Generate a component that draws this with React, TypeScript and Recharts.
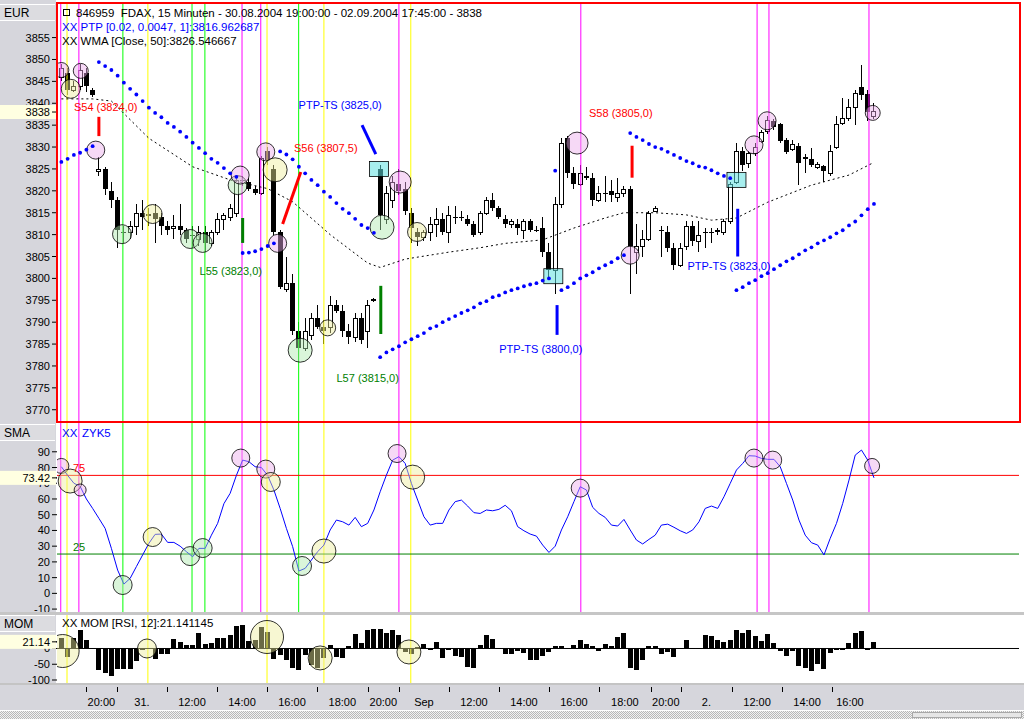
import React from "react";
import {
  Bar,
  ComposedChart,
  Line,
  ReferenceLine,
  Scatter,
  XAxis,
  YAxis,
} from "recharts";

const FONT = '"Liberation Sans", Arial, Helvetica, sans-serif';
const GRAY = "#d6d6dc";
const W = 1024;
const AXIS_W = 57;
const X_DOMAIN: [number, number] = [-0.7, 153.2];

// 15-minute candles, 30.08.2004 19:00 .. 02.09.2004 17:45
const open = [
  3846, 3847, 3843, 3844, 3847, 3843, 3824.5, 3825, 3820, 3818,
  3810.5, 3810.5, 3812, 3815, 3814.5, 3815, 3814, 3812, 3811.5, 3812,
  3811, 3810, 3809, 3810.5, 3808, 3810.5, 3813.5, 3814, 3815, 3822.5,
  3822, 3820.5, 3819.5, 3829, 3825, 3810.5, 3797.5, 3799, 3788, 3784,
  3787, 3791, 3789, 3789, 3794, 3792.5, 3788, 3786.5, 3791, 3788,
  3795, 3825, 3813.5, 3818, 3821.5, 3820.5, 3815, 3810.5, 3809.5, 3810.5,
  3812.5, 3813.5, 3810.5, 3814, 3814, 3813.5, 3812.5, 3810.5, 3815, 3818,
  3816, 3813.5, 3812.5, 3812.5, 3811, 3813, 3811, 3811.5, 3806, 3802,
  3817, 3832, 3824, 3821.5, 3823.5, 3823, 3818, 3819.5, 3820, 3818.5,
  3819.5, 3820.5, 3806, 3807.5, 3809, 3815.5, 3811, 3810.5, 3807, 3803,
  3807.5, 3812, 3808.5, 3810.5, 3810.5, 3811, 3810.5, 3813, 3822, 3829,
  3826.4, 3828.6, 3831.4, 3833.7, 3836, 3835.3, 3831.6, 3829.6, 3830.3, 3827.7,
  3827.3, 3825.4, 3825.7, 3824.1, 3830, 3835.6, 3836.7, 3839.2, 3843.7, 3842.1,
  3837.1,
];
const high = [
  3849, 3848, 3845, 3849, 3848, 3843.5, 3827.7, 3825.5, 3822, 3818.5,
  3812, 3813, 3817, 3818, 3816, 3817, 3815, 3813, 3814.5, 3817,
  3811.5, 3812, 3812, 3812, 3811, 3815, 3815, 3817, 3823, 3823.5,
  3823, 3821, 3828, 3830, 3826, 3811, 3805, 3801, 3790, 3791,
  3792, 3794, 3790.5, 3796, 3795, 3794, 3789.5, 3792, 3792, 3795,
  3795.5, 3826, 3821, 3823.5, 3825, 3822, 3816, 3811.5, 3811, 3814,
  3816, 3815, 3816.5, 3816.5, 3815.5, 3814.5, 3813, 3815.5, 3818.5, 3819.5,
  3816.5, 3814.5, 3813.5, 3813.5, 3813.5, 3813.5, 3812, 3814, 3808, 3818.5,
  3832, 3832.5, 3825.5, 3826, 3825.5, 3824, 3821, 3823.5, 3822.5, 3823,
  3821, 3821, 3812.5, 3811, 3815.5, 3816.5, 3812, 3812, 3808, 3808,
  3813, 3813, 3813, 3811.5, 3811.5, 3811.5, 3813.5, 3822, 3831, 3830,
  3829, 3831, 3834, 3837, 3836.5, 3835.5, 3832, 3831.5, 3831, 3828.5,
  3829.8, 3826.5, 3826, 3830.5, 3837, 3841.2, 3841, 3843, 3848.8, 3843,
  3840,
];
const low = [
  3845, 3842, 3842.5, 3843, 3842.5, 3841.5, 3823.5, 3819, 3816, 3807,
  3808, 3809, 3810, 3811, 3812, 3808, 3810, 3810, 3809, 3810,
  3808, 3807, 3807.5, 3806, 3807.5, 3810, 3811, 3813, 3814, 3821,
  3820, 3819, 3819, 3826, 3810, 3797.5, 3797, 3787, 3781, 3783.5,
  3786, 3788.5, 3785, 3787.5, 3792, 3786.5, 3785, 3785.5, 3785, 3784,
  3794.5, 3811, 3812.5, 3816, 3819, 3814.5, 3808, 3807.5, 3808.5, 3808.5,
  3809.5, 3810, 3808, 3812.5, 3813, 3812, 3809.5, 3810, 3814.5, 3815.5,
  3813.5, 3811.5, 3811.5, 3810, 3809, 3810.5, 3810.5, 3805, 3800, 3796.5,
  3816, 3823, 3820.5, 3821, 3822.5, 3816.5, 3817.5, 3817.5, 3817.5, 3817.5,
  3818.5, 3796.5, 3801, 3805, 3808.5, 3815.5, 3805, 3806, 3802, 3802.5,
  3806.5, 3807.5, 3806, 3807, 3808, 3810, 3810, 3812.5, 3821.5, 3824.5,
  3825.2, 3828, 3831, 3833, 3834, 3831, 3828.5, 3829, 3821.3, 3824,
  3825.5, 3825, 3822, 3823.5, 3829.5, 3835, 3836, 3835, 3840.8, 3836,
  3836.5,
];
const close = [
  3848, 3843, 3844, 3847.5, 3844, 3842, 3825, 3820.5, 3818, 3811,
  3810.5, 3812, 3815, 3814, 3814.7, 3813.5, 3812, 3811, 3812, 3811,
  3809, 3810, 3810.5, 3808, 3810.5, 3813.5, 3814.5, 3816, 3822.5, 3822.5,
  3820.5, 3819.5, 3827.5, 3827, 3810.5, 3798, 3799, 3788, 3784, 3788,
  3791, 3789, 3788, 3794, 3792.5, 3788, 3786.5, 3791, 3786, 3794,
  3795.2, 3814.5, 3819.5, 3822, 3820, 3815.5, 3811.5, 3809.5, 3810.5, 3812.5,
  3813.5, 3810.5, 3814.5, 3814, 3814, 3812.5, 3810, 3815, 3818, 3816,
  3814, 3812.5, 3813, 3811.5, 3813, 3811, 3811, 3806, 3802, 3817,
  3831, 3824, 3821.5, 3824, 3823, 3818, 3819.5, 3819.5, 3819, 3819.5,
  3820.5, 3807.5, 3807.5, 3809, 3815, 3816, 3811, 3807, 3803, 3807,
  3812, 3808.5, 3810, 3810.5, 3810.5, 3810.5, 3813, 3821.5, 3829, 3826,
  3828.6, 3830, 3833.4, 3836.2, 3834.6, 3831.4, 3828.9, 3830.7, 3826.4, 3827.3,
  3825.9, 3826.1, 3824.5, 3829, 3835.3, 3836.7, 3839.2, 3842.4, 3841.9, 3838,
  3838.2,
];

// PTP stop dots, one per candle
const ptp = [
  3826.6, 3827.3, 3828.2, 3828.7, 3829.4, 3830.2,
  3849.4, 3848.5, 3847.6, 3846.3, 3844.7, 3843.3, 3842, 3840.5, 3839, 3837.8,
  3836.8, 3835.5, 3834.6, 3833.5, 3832.3, 3831, 3829.8, 3828.6, 3827.3, 3826.4,
  3825.2, 3824, 3823.2,
  3805.8, 3805.9, 3806.2, 3806.7, 3807.4, 3808,
  3829, 3828.3, 3827.2, 3825.5, 3824, 3822.5, 3821.3, 3819.8, 3818.6, 3817.2,
  3815.9, 3814.9, 3813.6, 3812.2, 3811.5, 3810.4,
  3782, 3783.1, 3783.8, 3784.5, 3785.4, 3786.1, 3786.8, 3787.5, 3788.6, 3789.1,
  3790, 3790.7, 3791.4, 3792.1, 3792.7, 3793.4, 3794.3, 3794.8, 3795.7, 3796.1,
  3796.8, 3797.3, 3797.7, 3798.2, 3798.6, 3798.9, 3799.5, 3800,
  3824.6,
  3797.3, 3798, 3798.9, 3800, 3800.7, 3801.4, 3802.3, 3803, 3803.7, 3804.6, 3805.3,
  3833.2, 3832.3, 3831.6, 3830.7, 3830, 3829.6, 3828.9, 3828.2, 3827.5, 3826.8,
  3826.3, 3825.6, 3825.3, 3824.7, 3824, 3823.4, 3822.9,
  3797.3, 3798, 3798.9, 3799.6, 3800.5, 3801.2, 3802.1, 3803, 3803.9, 3804.6,
  3805.5, 3806.4, 3807.1, 3808, 3808.7, 3809.4, 3810.3, 3811, 3812.1, 3813,
  3814.4, 3815.8, 3817,
];

// WMA(50) readings at candle index
const wmaIdx = [0, 5, 8, 14, 21, 27, 33, 37, 43, 49, 51, 55, 62, 67, 71, 77, 82, 87, 90, 95, 100, 104, 108, 113, 120, 126, 130];
const wmaVal = [3841, 3841, 3840.5, 3832, 3825.5, 3822.5, 3820.5, 3817.5, 3810, 3803.5, 3802.5, 3804.4, 3806, 3807, 3808, 3808.8, 3811.5, 3813.8, 3815, 3815, 3814.5, 3813.3, 3813.8, 3817.4, 3821.3, 3823.6, 3826.5];

const zyk5 = [
  80.5, 75, 70, 68, 60, 54, 47.7, 41.3, 28.6, 14.8,
  5.9, 9.5, 17, 24.4, 31.8, 37.5, 37.7, 32.4, 32.4, 30,
  26.5, 23.3, 28.6, 28.6, 37, 44.5, 57, 63.6, 75, 84.7,
  83.7, 80.5, 80, 75, 65.7, 54, 41.3, 29.7, 14.2, 15.9,
  21.2, 26.5, 30.7, 40.3, 46.6, 45.5, 43.4, 48.3, 42.4, 44.5,
  53, 64.6, 75.2, 84.7, 86.9, 82.6, 69.9, 59.3, 48.7, 43.4,
  44.5, 44.5, 53, 58.3, 59.3, 55.5, 51.3, 50.8, 53, 52.5,
  53.4, 56, 52.5, 42.4, 39.8, 37.7, 36.4, 30.7, 26, 30,
  40.3, 48.7, 58.3, 67.8, 65.7, 54.7, 50.8, 48.3, 43.4, 42.8,
  47, 40.3, 33.9, 31.4, 34.3, 37, 43.4, 44, 42, 39.8,
  38.1, 40.3, 45.5, 54, 55.5, 54, 61.4, 69.9, 78.4, 82.6,
  87.5, 87.3, 85.8, 85.2, 85.2, 80.5, 69.9, 59.3, 46.6, 37,
  32.2, 30.7, 24.4, 35, 44.5, 57.2, 72, 87.9, 91.1, 84.7,
  73.42,
];

const mom = [
  32, -28, 32, 58, 26, -3, -69, -79, -88, -67,
  -67, -67, -42, -5, -3, -35, -19, -19, 30, 21,
  11, 11, 50, 13, 16, 32, 32, 42, 72, 74,
  24, 26, 67, 51, -35, -21, -39, -63, -69, -23,
  -55, -63, -32, 11, -28, -32, 7, 45, 18, 58,
  61, 61, 50, 58, 44, -13, -19, 5, 14, -5,
  20, -32, -7, -26, -28, -60, -63, 11, 42, 29,
  1, -19, -19, -11, -16, -39, -39, -26, -14, 7,
  7, 1, 11, 26, 14, 7, -11, 14, 7, 37,
  50, -63, -69, -39, 7, 7, -19, -14, -28, 1,
  26, -3, -2, 44, 39, 26, 21, 26, 58, 50,
  60, 39, 24, 45, 18, -11, -26, -11, -58, -63,
  -74, -50, -67, -16, -5, -7, 18, 50, 56, -5,
  21.14,
];

// circle markers: [index, value, kind]
const priceMarks: [number, number, string][] = [
  [0, 3847.6, "ps"], [1.5, 3843.3, "y"], [3.1, 3847.4, "ps"], [5.5, 3829.3, "p"],
  [9.7, 3810.1, "g"], [14.6, 3814.7, "y"], [20.6, 3809, "g"], [22.6, 3808.1, "g"],
  [28.2, 3821.3, "g"], [28.6, 3823.6, "p"], [32.7, 3828.9, "p"], [34.2, 3824.8, "yl"],
  [34.6, 3808, "p"], [38.2, 3783.6, "gl"], [42.6, 3788.7, "ys"], [51.3, 3811.7, "gl"],
  [54.2, 3822, "pl"], [56.9, 3810.6, "y"], [82.5, 3830.9, "pl"], [91, 3805.3, "p"],
  [110.8, 3830.5, "p"], [112.9, 3836, "p"], [129.8, 3837.8, "ps"],
];
const oscMarks: [number, number, string][] = [
  [0, 81, "ps"], [1.4, 71.4, "yl"], [3, 65.7, "pxs"], [9.8, 5.3, "g"],
  [14.6, 35.8, "y"], [20.6, 23.7, "g"], [22.6, 28.8, "g"], [28.7, 86, "p"],
  [32.7, 79, "p"], [33.5, 70.8, "y"], [38.5, 17.4, "g"], [42, 26.9, "yl"],
  [53.7, 88.9, "p"], [56.2, 73.9, "yl"], [83, 66.9, "p"], [110.8, 86, "p"],
  [113.8, 84.7, "p"], [129.7, 81, "ps"],
];
const momMarks: [number, number, string][] = [
  [0.2, -8, "yxl"], [13.7, 0, "y"], [32.9, 36.5, "yxl"], [41.4, -30, "yl"], [55.6, -11, "yl"],
];

// PTP-TS boxes: [index, price]
const tsBoxes: [number, number][] = [[50.8, 3825], [78.7, 3800.5], [108, 3822.5]];

// signal strokes: [i1, p1, i2, p2, kind]
const signals: [number, number, number, number, string][] = [
  [6, 3836.9, 6, 3832.5, "s"],
  [29, 3813.8, 29, 3808.1, "l"],
  [35.4, 3812.4, 38.3, 3824.3, "s"],
  [48.1, 3835, 50.3, 3828.4, "t"],
  [51.1, 3798.3, 51.1, 3787.3, "l"],
  [79.3, 3793.9, 79.3, 3787.1, "t"],
  [91.3, 3830.3, 91.3, 3823, "s"],
  [108.2, 3815.9, 108.2, 3805, "t"],
];

// notes: [index, price, text, kind]
const notes: [number, number, string, string][] = [
  [7.1, 3839.1, "S54 (3824,0)", "s"],
  [27.1, 3801.7, "L55 (3823,0)", "l"],
  [42.3, 3829.8, "S56 (3807,5)", "s"],
  [44.6, 3839.6, "PTP-TS (3825,0)", "t"],
  [49.0, 3777.2, "L57 (3815,0)", "l"],
  [76.7, 3783.9, "PTP-TS (3800,0)", "t"],
  [89.5, 3837.8, "S58 (3805,0)", "s"],
  [106.8, 3802.8, "PTP-TS (3823,0)", "t"],
];

// vertical cycle lines: [index, kind]
const vLines: [number, string][] = [
  [-0.1, "m"], [0.9, "y"], [2.8, "m"], [9.84, "g"], [13.84, "y"], [20.9, "g"],
  [22.96, "g"], [28.9, "m"], [31.9, "m"], [32.9, "y"], [37.96, "g"], [42, "y"],
  [54, "m"], [55.9, "y"], [83.1, "m"], [111.3, "m"], [113.2, "m"], [129.2, "m"],
];

const tickPos = [3.9, 8.9, 16.9, 24.9, 32.9, 40.9, 49, 54, 62, 70, 78, 86, 94.3, 99.1, 107.3, 115.3, 123.3];
const tickLbl = ["20:00", "31.", "12:00", "14:00", "16:00", "18:00", "20:00", "Sep", "12:00", "14:00", "16:00", "18:00", "20:00", "2.", "12:00", "14:00", "16:00"];
const LAST_IDX = 129;

const priceTicks = [3770, 3775, 3780, 3785, 3790, 3795, 3800, 3805, 3810, 3815, 3820, 3825, 3830, 3835, 3840, 3845, 3850, 3855];
const PRICE_NOW = 3838;
const oscTicks = [-10, 0, 10, 20, 30, 40, 50, 60, 70, 80, 90];
const OSC_NOW = 73.42;
const momTicks = [-100, -50, 0];
const MOM_NOW = 21.14;

const candles = open.map((o, i) => ({ i, o, h: high[i], l: low[i], c: close[i] }));
const ptpPts = ptp.map((v, i) => ({ i, v }));
const wmaPts = wmaIdx.map((i, k) => ({ i, v: wmaVal[k] }));
const zykPts = zyk5.map((v, i) => ({ i, v }));
const momPts = mom.map((v, i) => ({ i, v }));
const toMarks = (a: [number, number, string][]) => a.map(([i, v, k]) => ({ i, v, k }));
const boxPts = tsBoxes.map(([i, v]) => ({ i, v }));
const notePts = notes.map(([i, v, t, k]) => ({ i, v, t, k }));
const lblPos = tickPos.map((t, k) => (t + (tickPos[k + 1] ?? LAST_IDX)) / 2);
const xTicks = [...tickPos, ...lblPos];

const PINK = "#ecaaec";
const YEL = "#eeee9c";
const GRN = "#ade8ad";
const MARK: Record<string, { r: number; fill: string }> = {
  p: { r: 9, fill: PINK },
  ps: { r: 7.5, fill: PINK },
  pxs: { r: 6, fill: PINK },
  pl: { r: 11, fill: PINK },
  y: { r: 9.5, fill: YEL },
  ys: { r: 8, fill: YEL },
  yl: { r: 12, fill: YEL },
  yxl: { r: 16.5, fill: YEL },
  g: { r: 9.5, fill: GRN },
  gl: { r: 12, fill: GRN },
};
const SIG_COL: Record<string, string> = { s: "#ff0000", l: "#008000", t: "#0000ff" };
const V_COL: Record<string, string> = { m: "#ff00ff", y: "#ffff00", g: "#00ff00" };

function Candle(p: any) {
  const d = p.payload;
  if (!d || p.x == null || p.y == null) return <g />;
  const top = Math.min(p.y, p.y + p.height);
  const hgt = Math.abs(p.height);
  const k = d.h > d.l ? hgt / (d.h - d.l) : 0;
  const yOf = (v: number) => top + (d.h - v) * k;
  const left = Math.round(p.x + p.width / 2 - 2.5);
  const mid = left + 2.5;
  const bTop = Math.round(yOf(Math.max(d.o, d.c)));
  const bBot = Math.round(yOf(Math.min(d.o, d.c)));
  const up = d.c > d.o;
  let body;
  if (bBot - bTop < 1) {
    body = <line x1={left} x2={left + 5} y1={bTop + 0.5} y2={bTop + 0.5} stroke="#000" />;
  } else if (up) {
    body = <rect x={left + 0.5} y={bTop + 0.5} width={4} height={bBot - bTop} fill="#fff" stroke="#000" />;
  } else {
    body = <rect x={left} y={bTop} width={5} height={Math.max(1, bBot - bTop)} fill="#000" />;
  }
  return (
    <g shapeRendering="crispEdges">
      <line x1={mid} x2={mid} y1={top} y2={top + hgt} stroke="#000" />
      {body}
    </g>
  );
}

function MomBar(p: any) {
  if (p.x == null || p.y == null) return <g />;
  const top = Math.round(Math.min(p.y, p.y + p.height));
  const h = Math.max(1, Math.round(Math.abs(p.height)));
  const left = Math.round(p.x + p.width / 2 - 2.5);
  return <rect x={left} y={top} width={5} height={h} fill="#000" shapeRendering="crispEdges" />;
}

function MarkShape(p: any) {
  const s = MARK[p.payload?.k] ?? MARK.p;
  return (
    <g>
      <circle cx={p.cx} cy={p.cy} r={s.r} fill={s.fill} fillOpacity={0.45} />
      <circle cx={p.cx} cy={p.cy} r={s.r} fill="none" stroke="#000" strokeWidth={0.8} />
    </g>
  );
}

function PtpDot(p: any) {
  return <circle cx={p.cx} cy={p.cy} r={1.9} fill="#0000ff" />;
}

function BoxShape(p: any) {
  return (
    <g>
      <rect x={p.cx - 9.5} y={p.cy - 7.5} width={19} height={15} fill="#5fe0e0" fillOpacity={0.55} />
      <rect x={p.cx - 9.5} y={p.cy - 7.5} width={19} height={15} fill="none" stroke="#000" strokeWidth={0.8} />
    </g>
  );
}

function NoteShape(p: any) {
  return (
    <text x={p.cx} y={p.cy} dy={4} textAnchor="middle" fontSize={11} fontFamily={FONT} fill={SIG_COL[p.payload?.k]}>
      {p.payload?.t}
    </text>
  );
}

function makeYTick(now: number, fmt: (v: number) => string) {
  return function YTick(p: any) {
    const v = p.payload?.value;
    const label = (
      <text x={p.x} y={p.y} dy={4} textAnchor="end" fontSize={11} fontFamily={FONT} fill="#000">
        {fmt(v)}
      </text>
    );
    if (v !== now) return label;
    return (
      <g>
        <rect x={0} y={p.y - 7} width={AXIS_W - 1} height={14} fill="#ffffe1" />
        <line x1={AXIS_W - 5} x2={AXIS_W} y1={p.y} y2={p.y} stroke="#000" />
        {label}
      </g>
    );
  };
}

function XTick(p: any) {
  const v = p.payload?.value;
  const ti = tickPos.findIndex((t) => Math.abs(t - v) < 1e-6);
  if (ti >= 0) {
    const x = Math.round(p.x) + 0.5;
    return <line x1={x} x2={x} y1={p.y + 4} y2={p.y + 9} stroke="#000" />;
  }
  const li = lblPos.findIndex((t) => Math.abs(t - v) < 1e-6);
  return (
    <text x={p.x} y={p.y + 23} textAnchor="middle" fontSize={11} fontFamily={FONT} fill="#000">
      {tickLbl[li]}
    </text>
  );
}

const vertical = (kinds: string[]) =>
  vLines
    .filter(([, k]) => kinds.includes(k))
    .map(([i, k], n) => (
      <ReferenceLine key={"v" + n} x={i} stroke={V_COL[k]} strokeWidth={1} />
    ));

const hiddenX = <XAxis dataKey="i" type="number" domain={X_DOMAIN} hide allowDataOverflow />;

function Txt({ x, y, c = "#000", size = 11, children }: { x: number; y: number; c?: string; size?: number; children: React.ReactNode }) {
  return (
    <div
      style={{
        position: "absolute",
        left: x,
        top: y - 7,
        fontFamily: FONT,
        fontSize: size,
        lineHeight: "14px",
        color: c,
        whiteSpace: "pre",
      }}
    >
      {children}
    </div>
  );
}

function SideBox({ top, h, label }: { top: number; h: number; label: string }) {
  return (
    <div
      style={{
        position: "absolute",
        left: 0,
        top,
        width: 55,
        height: h,
        background: "#dcdce0",
        borderTop: "1px solid #fff",
        borderBottom: "1px solid #fff",
        fontFamily: FONT,
        fontSize: 12,
        lineHeight: h + "px",
        paddingLeft: 4,
        boxSizing: "border-box",
      }}
    >
      {label}
    </div>
  );
}

function abs(top: number, h: number, extra: React.CSSProperties = {}): React.CSSProperties {
  return { position: "absolute", left: 0, top, width: W, height: h, ...extra };
}

export default function App() {
  return (
    <div style={{ position: "absolute", left: 0, top: 0, width: W, height: 719, background: "#fff", overflow: "hidden" }}>
      <div style={{ position: "absolute", left: 0, top: 0, width: 56, height: 719, background: GRAY }} />
      <div style={abs(612, 3, { background: "#c6c6c6" })} />
      <div style={abs(683, 27, { background: GRAY, borderTop: "2px solid #c4c4c4", boxSizing: "border-box" })} />
      <div
        style={abs(710, 9, {
          background: "repeating-conic-gradient(#b8b8b8 0 25%, #f2f2f2 0 50%) 0 0/2px 2px",
          borderTop: "1px solid #fff",
          boxSizing: "border-box",
        })}
      />
      <div style={{ position: "absolute", left: 912, top: 712, width: 110, height: 6, background: "#e6e6e6", border: "1px solid #a8a8a8", boxSizing: "border-box" }} />
      <SideBox top={4} h={17} label="EUR" />
      <SideBox top={424} h={17} label="SMA" />
      <SideBox top={615} h={17} label="MOM" />

      <div style={abs(0, 423)}>
        <ComposedChart width={W} height={423} data={candles} margin={{ top: 3, right: 5, bottom: 1, left: 0 }}>
          {hiddenX}
          <YAxis
            type="number"
            domain={[3767.2, 3862.9]}
            ticks={[...priceTicks, PRICE_NOW]}
            interval={0}
            width={AXIS_W}
            axisLine={false}
            tickSize={5}
            tickLine={{ stroke: "#000" }}
            tick={makeYTick(PRICE_NOW, (v) => String(v))}
            allowDataOverflow
          />
          {vertical(["m", "y", "g"])}
          <Scatter data={boxPts} dataKey="v" shape={BoxShape} isAnimationActive={false} />
          <Scatter data={toMarks(priceMarks)} dataKey="v" shape={MarkShape} isAnimationActive={false} />
          <Line data={wmaPts} dataKey="v" stroke="#000" strokeWidth={1} strokeDasharray="2 3" dot={false} isAnimationActive={false} />
          <Bar dataKey={(d: any) => [d.l, d.h]} barSize={5} shape={Candle} isAnimationActive={false} />
          <Scatter data={ptpPts} dataKey="v" shape={PtpDot} isAnimationActive={false} />
          {signals.map(([i1, p1, i2, p2, k], n) => (
            <ReferenceLine
              key={"s" + n}
              segment={[{ x: i1, y: p1 }, { x: i2, y: p2 }]}
              stroke={SIG_COL[k]}
              strokeWidth={3}
            />
          ))}
          <Scatter data={notePts} dataKey="v" shape={NoteShape} isAnimationActive={false} />
        </ComposedChart>
      </div>

      <div style={abs(423, 189)}>
        <ComposedChart width={W} height={189} data={zykPts} margin={{ top: 0, right: 5, bottom: 0, left: 0 }}>
          {hiddenX}
          <YAxis
            type="number"
            domain={[-11.85, 108.3]}
            ticks={[...oscTicks, OSC_NOW]}
            interval={0}
            width={AXIS_W}
            axisLine={false}
            tickSize={5}
            tickLine={{ stroke: "#000" }}
            tick={makeYTick(OSC_NOW, (v) => (v === OSC_NOW ? v.toFixed(2) : String(v)))}
            allowDataOverflow
          />
          {vertical(["m", "y", "g"])}
          <ReferenceLine y={75} stroke="#ff0000" strokeWidth={1} />
          <ReferenceLine y={25} stroke="#008000" strokeWidth={1} />
          <Scatter data={toMarks(oscMarks)} dataKey="v" shape={MarkShape} isAnimationActive={false} />
          <Line dataKey="v" stroke="#0000ff" strokeWidth={1} dot={false} isAnimationActive={false} />
        </ComposedChart>
      </div>

      <div style={abs(614, 96)}>
        <ComposedChart width={W} height={96} data={momPts} margin={{ top: 1, right: 5, bottom: 0, left: 0 }}>
          <XAxis
            dataKey="i"
            type="number"
            domain={X_DOMAIN}
            ticks={xTicks}
            interval={0}
            tickLine={false}
            axisLine={false}
            tickSize={0}
            tickMargin={0}
            tick={XTick}
            height={27}
            allowDataOverflow
          />
          <YAxis
            type="number"
            domain={[-109.5, 106.3]}
            ticks={[...momTicks, MOM_NOW]}
            interval={0}
            width={AXIS_W}
            axisLine={false}
            tickSize={5}
            tickLine={{ stroke: "#000" }}
            tick={makeYTick(MOM_NOW, (v) => (v === MOM_NOW ? v.toFixed(2) : String(v)))}
            allowDataOverflow
          />
          {vertical(["y"])}
          <Scatter data={toMarks(momMarks)} dataKey="v" shape={MarkShape} isAnimationActive={false} />
          <ReferenceLine y={0} stroke="#000" strokeWidth={1} />
          <Bar dataKey="v" barSize={5} shape={MomBar} isAnimationActive={false} />
        </ComposedChart>
      </div>

      <div style={{ position: "absolute", left: 56, top: 2, width: 965, height: 421, border: "2px solid #ff0000", boxSizing: "border-box", pointerEvents: "none" }} />

      <div style={{ position: "absolute", left: 63, top: 9, width: 7, height: 7, border: "1px solid #000", boxSizing: "border-box" }} />
      <Txt x={76} y={13} size={11.5}>846959  FDAX, 15 Minuten - 30.08.2004 19:00:00 - 02.09.2004 17:45:00 - 3838</Txt>
      <Txt x={62} y={26.5} c="#0000ff" size={11.5}>XX PTP [0.02, 0.0047, 1]:3816.962687</Txt>
      <Txt x={62} y={40.5} size={11.5}>XX WMA [Close, 50]:3826.546667</Txt>
      <Txt x={62} y={433} c="#0000ff" size={11.5}>XX</Txt>
      <Txt x={82} y={433} c="#0000ff" size={11.5}>ZYK5</Txt>
      <Txt x={73} y={468} c="#ff0000">75</Txt>
      <Txt x={73} y={547} c="#008000">25</Txt>
      <Txt x={62} y={623} size={11.5}>XX MOM [RSI, 12]:21.141145</Txt>
    </div>
  );
}
